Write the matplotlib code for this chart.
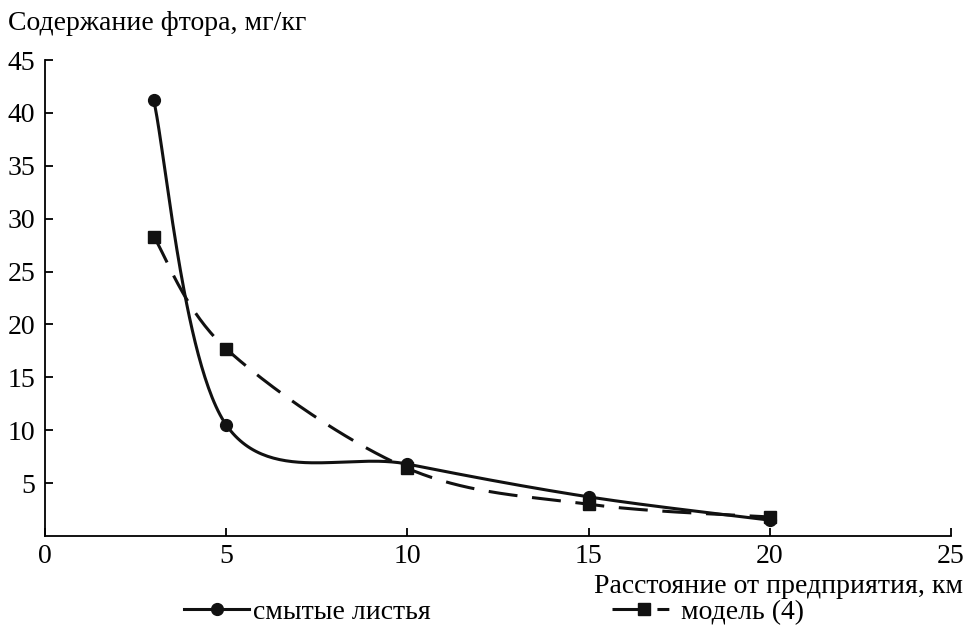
import numpy as np
import matplotlib
matplotlib.use("Agg")
import matplotlib.pyplot as plt
from matplotlib.lines import Line2D

plt.rcParams["font.family"] = ["Liberation Serif", "DejaVu Serif"]

# данные
distance = [3, 5, 10, 15, 20]
leaves = [41.2, 10.5, 6.8, 3.7, 1.5]
model = [28.3, 17.7, 6.4, 3.0, 1.8]

xticks = [0, 5, 10, 15, 20, 25]
yticks = [5, 10, 15, 20, 25, 30, 35, 40, 45]


def smooth(x, y, sx, sy, n=60):
    # сглаживание как в Excel (Catmull-Rom через Безье), в пиксельных координатах
    p = np.column_stack([np.array(x) * sx, np.array(y) * sy])
    out = []
    for i in range(len(p) - 1):
        p0 = p[i - 1] if i > 0 else p[i]
        p1, p2 = p[i], p[i + 1]
        p3 = p[i + 2] if i + 2 < len(p) else p[i + 1]
        c1 = p1 + (p2 - p0) / 6
        c2 = p2 - (p3 - p1) / 6
        t = np.linspace(0, 1, n)[:, None]
        seg = (1 - t) ** 3 * p1 + 3 * (1 - t) ** 2 * t * c1 + 3 * (1 - t) * t ** 2 * c2 + t ** 3 * p2
        out.append(seg if i == 0 else seg[1:])
    out = np.vstack(out)
    return out[:, 0] / sx, out[:, 1] / sy


fig = plt.figure(figsize=(9.68, 6.44), dpi=100)
ax = fig.add_axes([0.0465, 0.1677, 0.9360, 0.7391])

# масштаб пикселей на единицу
sx = 906 / 25
sy = 476 / 45

xs, ys = smooth(distance, leaves, sx, sy)
ax.plot(xs, ys, color="#111111", lw=2.2)
ax.plot(distance, leaves, "o", color="#111111", ms=8.5)

xm, ym = smooth(distance, model, sx, sy)
ax.plot(xm, ym, color="#111111", lw=2.2, dashes=(9.5, 4.8))
ax.plot(distance, model, "s", color="#111111", ms=8.5)

ax.set_xlim(0, 25)
ax.set_ylim(0, 45)
ax.set_xticks(xticks)
ax.set_yticks(yticks)
ax.spines["top"].set_visible(False)
ax.spines["right"].set_visible(False)
ax.spines["left"].set_linewidth(1.3)
ax.spines["bottom"].set_linewidth(1.3)
ax.tick_params(direction="in", length=6, width=1.3, labelsize=20)
ax.tick_params(axis="x", pad=6)
ax.tick_params(axis="y", pad=7)

fig.text(0.008, 0.963, "Содержание фтора, мг/кг", fontsize=20, va="center", ha="left")
fig.text(0.995, 0.09, "Расстояние от предприятия, км", fontsize=20, va="center", ha="right")

handles = [
    Line2D([], [], color="#111111", lw=2.2, marker="o", ms=8.5),
    Line2D([], [], color="#111111", lw=2.2, marker="s", ms=8.5, dashes=(8.5, 6.2, 3.9, 6.5)),
]
fig.legend(handles, ["смытые листья", "модель (4)"], loc="center left", bbox_to_anchor=(0.19, 0.049),
           ncol=2, frameon=False, fontsize=20, handlelength=2.35, handletextpad=0.15,
           columnspacing=6.5, borderpad=0, borderaxespad=0)

fig.savefig("out.png", dpi=100)
